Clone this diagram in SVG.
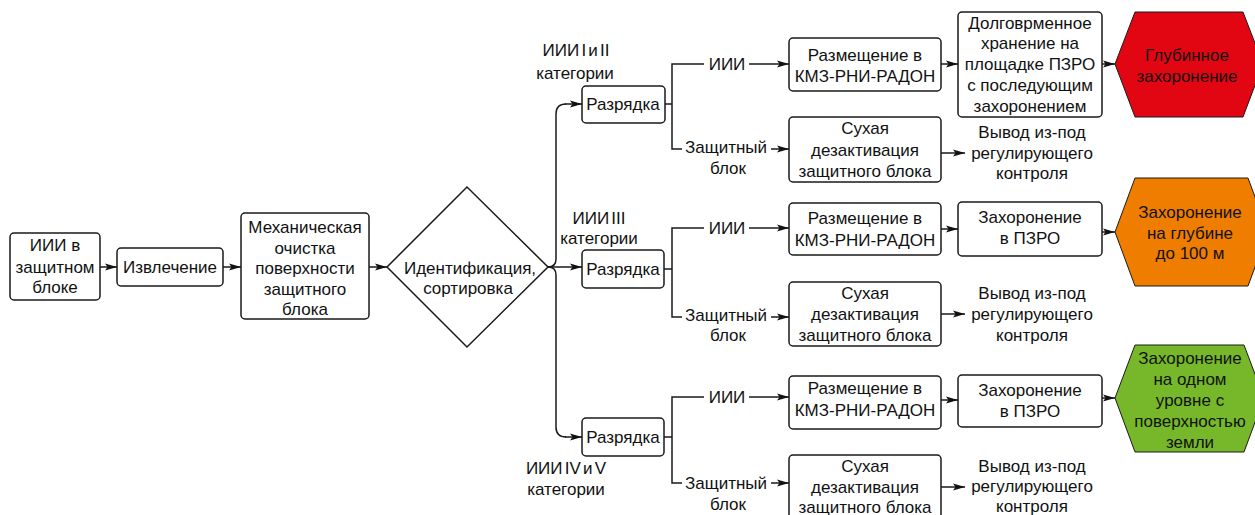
<svg xmlns="http://www.w3.org/2000/svg" width="1255" height="515" viewBox="0 0 1255 515">
<style>
.box{fill:#fff;stroke:#1a1a1a;stroke-width:1.5}
.t{font-family:"Liberation Sans",Arial,sans-serif;font-size:17px;fill:#111;text-anchor:middle}
.ws{word-spacing:-2.5px}
.c{fill:none;stroke:#1a1a1a;stroke-width:1.5}
.a{fill:none;stroke:#1a1a1a;stroke-width:1.5;marker-end:url(#ah)}
</style>
<defs>
<marker id="ah" viewBox="0 0 12 8" refX="12" refY="4" markerWidth="12" markerHeight="8" markerUnits="userSpaceOnUse" orient="auto">
<path d="M0,0.5 L12,4 L0,7.5 L2.5,4 Z" fill="#111"/>
</marker>
</defs>
<rect width="1255" height="515" fill="#fff"/>

<g id="connectors">
<path class="a" d="M100 267 H117"/>
<path class="a" d="M223 267 H241"/>
<path class="a" d="M369 267 H387"/>
<path class="c" d="M548 267 Q556 267 556 259 V114 Q556 104 566 104"/>
<path class="a" d="M565 104 H582"/>
<path class="a" d="M548 267 H582"/>
<path class="c" d="M548 267 Q556 267 556 275 V427 Q556 437 566 437"/>
<path class="a" d="M565 437 H582"/>
<path class="c" d="M665 104 H672 M704 64 H672 V149 H682"/>
<path class="a" d="M749 64 H789"/>
<path class="a" d="M771 149 H789"/>
<path class="a" d="M941 64 H958"/>
<path class="a" d="M1102 64 H1115"/>
<path class="a" d="M941 153 H965"/>
<path class="c" d="M664 269 H672 M704 228 H672 V317 H682"/>
<path class="a" d="M749 228 H789"/>
<path class="a" d="M771 317 H789"/>
<path class="a" d="M941 229 H958"/>
<path class="a" d="M1102 232 H1115"/>
<path class="a" d="M941 314 H965"/>
<path class="c" d="M664 437 H672 M704 397 H672 V483 H682"/>
<path class="a" d="M749 397 H789"/>
<path class="a" d="M771 483 H789"/>
<path class="a" d="M941 400 H958"/>
<path class="a" d="M1102 398 H1115"/>
<path class="a" d="M941 487 H965"/>
</g>

<g id="n-source">
<rect class="box" x="10" y="233" width="90" height="67" rx="4"/>
<text class="t" x="55" y="251">ИИИ в</text>
<text class="t" x="55" y="273">защитном</text>
<text class="t" x="55" y="293">блоке</text>
</g>
<g id="n-extract">
<rect class="box" x="117" y="248" width="106" height="38" rx="4"/>
<text class="t" x="170" y="273">Извлечение</text>
</g>
<g id="n-mech">
<rect class="box" x="241" y="213" width="128" height="106" rx="4"/>
<text class="t" x="305" y="233">Механическая</text>
<text class="t" x="305" y="254">очистка</text>
<text class="t" x="305" y="274">поверхности</text>
<text class="t" x="305" y="295">защитного</text>
<text class="t" x="305" y="315">блока</text>
</g>
<g id="n-ident">
<polygon class="box" points="387,267 467,187 548,267 467,347"/>
<text class="t" x="470" y="274">Идентификация,</text>
<text class="t" x="468" y="294">сортировка</text>
</g>

<g id="lbl-cat1">
<text class="t ws" x="576" y="56">ИИИ I и II</text>
<text class="t" x="575" y="79">категории</text>
</g>
<g id="lbl-cat2">
<text class="t ws" x="599" y="224">ИИИ III</text>
<text class="t" x="599" y="244">категории</text>
</g>
<g id="lbl-cat3">
<text class="t ws" x="566" y="474">ИИИ IV и V</text>
<text class="t" x="566" y="495">категории</text>
</g>

<g id="n-r1">
<rect class="box" x="582" y="86" width="83" height="37" rx="4"/>
<text class="t" x="623" y="110">Разрядка</text>
</g>
<g id="n-r2">
<rect class="box" x="582" y="250" width="82" height="38" rx="4"/>
<text class="t" x="623" y="275">Разрядка</text>
</g>
<g id="n-r3">
<rect class="box" x="582" y="418" width="82" height="38" rx="4"/>
<text class="t" x="623" y="443">Разрядка</text>
</g>

<g id="lbl-b1">
<text class="t" x="727" y="70">ИИИ</text>
<text class="t" x="726" y="153">Защитный</text>
<text class="t" x="728" y="174">блок</text>
</g>
<g id="lbl-b2">
<text class="t" x="727" y="234">ИИИ</text>
<text class="t" x="726" y="321">Защитный</text>
<text class="t" x="728" y="341">блок</text>
</g>
<g id="lbl-b3">
<text class="t" x="727" y="403">ИИИ</text>
<text class="t" x="726" y="489">Защитный</text>
<text class="t" x="728" y="510">блок</text>
</g>

<g id="n-place1">
<rect class="box" x="789" y="38" width="152" height="53" rx="4"/>
<text class="t" x="865" y="61">Размещение в</text>
<text class="t" x="865" y="82">КМЗ-РНИ-РАДОН</text>
</g>
<g id="n-dry1">
<rect class="box" x="789" y="117" width="152" height="65" rx="4"/>
<text class="t" x="865" y="134">Сухая</text>
<text class="t" x="865" y="156">дезактивация</text>
<text class="t" x="865" y="177">защитного блока</text>
</g>
<g id="n-store1">
<rect class="box" x="958" y="12" width="144" height="105" rx="4"/>
<text class="t" x="1030" y="29">Долговрменное</text>
<text class="t" x="1030" y="49">хранение на</text>
<text class="t" x="1030" y="70">площадке ПЗРО</text>
<text class="t" x="1030" y="91">с последующим</text>
<text class="t" x="1030" y="112">захоронением</text>
</g>
<g id="n-deep">
<polygon points="1115,64 1135,12 1243,12 1263,64 1243,117 1135,117" fill="#e20613" stroke="#1a1a1a" stroke-width="1"/>
<text class="t" x="1187" y="61">Глубинное</text>
<text class="t" x="1187" y="82">захоронение</text>
</g>
<g id="n-out1">
<text class="t" x="1032" y="138">Вывод из-под</text>
<text class="t" x="1032" y="159">регулирующего</text>
<text class="t" x="1032" y="179">контроля</text>
</g>

<g id="n-place2">
<rect class="box" x="789" y="203" width="152" height="52" rx="4"/>
<text class="t" x="865" y="224">Размещение в</text>
<text class="t" x="865" y="246">КМЗ-РНИ-РАДОН</text>
</g>
<g id="n-dry2">
<rect class="box" x="789" y="282" width="152" height="64" rx="4"/>
<text class="t" x="865" y="299">Сухая</text>
<text class="t" x="865" y="320">дезактивация</text>
<text class="t" x="865" y="341">защитного блока</text>
</g>
<g id="n-bur2">
<rect class="box" x="958" y="202" width="144" height="54" rx="4"/>
<text class="t" x="1030" y="223">Захоронение</text>
<text class="t" x="1030" y="244">в ПЗРО</text>
</g>
<g id="n-100m">
<polygon points="1115,232 1135,178 1248,178 1268,232 1248,286 1135,286" fill="#ef7d00" stroke="#1a1a1a" stroke-width="1"/>
<text class="t" x="1190" y="218">Захоронение</text>
<text class="t" x="1190" y="239">на глубине</text>
<text class="t" x="1190" y="259">до 100 м</text>
</g>
<g id="n-out2">
<text class="t" x="1032" y="299">Вывод из-под</text>
<text class="t" x="1032" y="320">регулирующего</text>
<text class="t" x="1032" y="341">контроля</text>
</g>

<g id="n-place3">
<rect class="box" x="789" y="376" width="152" height="53" rx="4"/>
<text class="t" x="865" y="394">Размещение в</text>
<text class="t" x="865" y="416">КМЗ-РНИ-РАДОН</text>
</g>
<g id="n-dry3">
<rect class="box" x="789" y="455" width="152" height="66" rx="4"/>
<text class="t" x="865" y="472">Сухая</text>
<text class="t" x="865" y="493">дезактивация</text>
<text class="t" x="865" y="513">защитного блока</text>
</g>
<g id="n-bur3">
<rect class="box" x="958" y="375" width="144" height="52" rx="4"/>
<text class="t" x="1030" y="396">Захоронение</text>
<text class="t" x="1030" y="417">в ПЗРО</text>
</g>
<g id="n-surface">
<polygon points="1115,398 1135,345 1244,345 1264,398 1244,452 1135,452" fill="#76b82a" stroke="#1a1a1a" stroke-width="1"/>
<text class="t" x="1190" y="364">Захоронение</text>
<text class="t" x="1190" y="385">на одном</text>
<text class="t" x="1190" y="406">уровне с</text>
<text class="t" x="1190" y="427">поверхностью</text>
<text class="t" x="1190" y="448">земли</text>
</g>
<g id="n-out3">
<text class="t" x="1032" y="472">Вывод из-под</text>
<text class="t" x="1032" y="492">регулирующего</text>
<text class="t" x="1032" y="512">контроля</text>
</g>
</svg>
